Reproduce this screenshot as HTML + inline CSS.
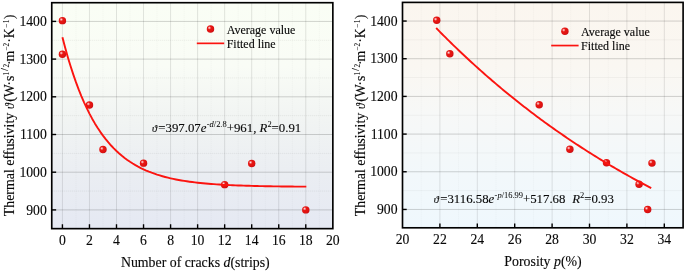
<!DOCTYPE html>
<html><head><meta charset="utf-8"><title>Thermal effusivity</title>
<style>
html,body{margin:0;padding:0;background:#fff;}
body{width:685px;height:271px;overflow:hidden;}
svg{display:block;will-change:transform;}
text{font-family:"Liberation Serif","DejaVu Serif",serif;fill:#080808;stroke:#080808;stroke-width:0.12px;}
.tk{font-size:13.7px;}
.tt{font-size:13.85px;}
.lg{font-size:12px;}
.eq{font-size:12.82px;}
.sp{font-size:8.45px;stroke-width:0.04px;}
.ts{font-size:7.4px;stroke-width:0.06px;}
.yt{font-size:13.9px;}
.i{font-style:italic;}
</style></head><body>
<svg width="685" height="271" viewBox="0 0 685 271">
<defs>
<linearGradient id="g1" x1="0" y1="0" x2="0" y2="1"><stop offset="0" stop-color="#fafef5"/><stop offset="0.28" stop-color="#f9fcf6"/><stop offset="0.49" stop-color="#f2f5f3"/><stop offset="0.77" stop-color="#eaedf2"/><stop offset="1" stop-color="#e5e9f3"/></linearGradient>
<linearGradient id="g2" x1="0" y1="0" x2="0" y2="1"><stop offset="0" stop-color="#fbf6ef"/><stop offset="0.28" stop-color="#faf7f2"/><stop offset="0.49" stop-color="#f7f8f7"/><stop offset="0.77" stop-color="#f2f8fb"/><stop offset="1" stop-color="#eff8fd"/></linearGradient>
<radialGradient id="ball" cx="0.36" cy="0.36" r="0.66" fx="0.34" fy="0.34">
<stop offset="0" stop-color="#fff0f0"/><stop offset="0.16" stop-color="#f58a8c"/><stop offset="0.36" stop-color="#e61814"/><stop offset="0.8" stop-color="#e01210"/><stop offset="1" stop-color="#c80e14"/></radialGradient>
</defs>
<rect width="685" height="271" fill="#fff"/>

<rect x="51.75" y="2.7" width="281.10" height="225.95" fill="url(#g1)"/>
<line x1="75.94" y1="2.7" x2="75.94" y2="228.65" stroke="#000" stroke-opacity="0.038" stroke-width="1" stroke-dasharray="1 1"/>
<line x1="102.98" y1="2.7" x2="102.98" y2="228.65" stroke="#000" stroke-opacity="0.038" stroke-width="1" stroke-dasharray="1 1"/>
<line x1="130.02" y1="2.7" x2="130.02" y2="228.65" stroke="#000" stroke-opacity="0.038" stroke-width="1" stroke-dasharray="1 1"/>
<line x1="157.06" y1="2.7" x2="157.06" y2="228.65" stroke="#000" stroke-opacity="0.038" stroke-width="1" stroke-dasharray="1 1"/>
<line x1="184.10" y1="2.7" x2="184.10" y2="228.65" stroke="#000" stroke-opacity="0.038" stroke-width="1" stroke-dasharray="1 1"/>
<line x1="211.14" y1="2.7" x2="211.14" y2="228.65" stroke="#000" stroke-opacity="0.038" stroke-width="1" stroke-dasharray="1 1"/>
<line x1="238.18" y1="2.7" x2="238.18" y2="228.65" stroke="#000" stroke-opacity="0.038" stroke-width="1" stroke-dasharray="1 1"/>
<line x1="265.22" y1="2.7" x2="265.22" y2="228.65" stroke="#000" stroke-opacity="0.038" stroke-width="1" stroke-dasharray="1 1"/>
<line x1="292.26" y1="2.7" x2="292.26" y2="228.65" stroke="#000" stroke-opacity="0.038" stroke-width="1" stroke-dasharray="1 1"/>
<line x1="319.30" y1="2.7" x2="319.30" y2="228.65" stroke="#000" stroke-opacity="0.038" stroke-width="1" stroke-dasharray="1 1"/>
<line x1="51.75" y1="191.05" x2="332.85" y2="191.05" stroke="#000" stroke-opacity="0.077" stroke-width="1" stroke-dasharray="1 1"/>
<line x1="51.75" y1="153.35" x2="332.85" y2="153.35" stroke="#000" stroke-opacity="0.077" stroke-width="1" stroke-dasharray="1 1"/>
<line x1="51.75" y1="115.65" x2="332.85" y2="115.65" stroke="#000" stroke-opacity="0.077" stroke-width="1" stroke-dasharray="1 1"/>
<line x1="51.75" y1="77.95" x2="332.85" y2="77.95" stroke="#000" stroke-opacity="0.077" stroke-width="1" stroke-dasharray="1 1"/>
<line x1="51.75" y1="40.25" x2="332.85" y2="40.25" stroke="#000" stroke-opacity="0.077" stroke-width="1" stroke-dasharray="1 1"/>
<line x1="62.42" y1="2.7" x2="62.42" y2="228.65" stroke="#000" stroke-opacity="0.104" stroke-width="1"/>
<line x1="89.46" y1="2.7" x2="89.46" y2="228.65" stroke="#000" stroke-opacity="0.104" stroke-width="1"/>
<line x1="116.50" y1="2.7" x2="116.50" y2="228.65" stroke="#000" stroke-opacity="0.104" stroke-width="1"/>
<line x1="143.54" y1="2.7" x2="143.54" y2="228.65" stroke="#000" stroke-opacity="0.104" stroke-width="1"/>
<line x1="170.58" y1="2.7" x2="170.58" y2="228.65" stroke="#000" stroke-opacity="0.104" stroke-width="1"/>
<line x1="197.62" y1="2.7" x2="197.62" y2="228.65" stroke="#000" stroke-opacity="0.104" stroke-width="1"/>
<line x1="224.66" y1="2.7" x2="224.66" y2="228.65" stroke="#000" stroke-opacity="0.104" stroke-width="1"/>
<line x1="251.70" y1="2.7" x2="251.70" y2="228.65" stroke="#000" stroke-opacity="0.104" stroke-width="1"/>
<line x1="278.74" y1="2.7" x2="278.74" y2="228.65" stroke="#000" stroke-opacity="0.104" stroke-width="1"/>
<line x1="305.78" y1="2.7" x2="305.78" y2="228.65" stroke="#000" stroke-opacity="0.104" stroke-width="1"/>
<line x1="51.75" y1="209.90" x2="332.85" y2="209.90" stroke="#000" stroke-opacity="0.174" stroke-width="1"/>
<line x1="51.75" y1="172.20" x2="332.85" y2="172.20" stroke="#000" stroke-opacity="0.174" stroke-width="1"/>
<line x1="51.75" y1="134.50" x2="332.85" y2="134.50" stroke="#000" stroke-opacity="0.174" stroke-width="1"/>
<line x1="51.75" y1="96.80" x2="332.85" y2="96.80" stroke="#000" stroke-opacity="0.174" stroke-width="1"/>
<line x1="51.75" y1="59.10" x2="332.85" y2="59.10" stroke="#000" stroke-opacity="0.174" stroke-width="1"/>
<line x1="51.75" y1="21.40" x2="332.85" y2="21.40" stroke="#000" stroke-opacity="0.174" stroke-width="1"/>
<circle cx="62.42" cy="20.65" r="3.72" fill="url(#ball)"/>
<circle cx="62.42" cy="54.20" r="3.72" fill="url(#ball)"/>
<circle cx="89.46" cy="105.09" r="3.72" fill="url(#ball)"/>
<circle cx="102.98" cy="149.58" r="3.72" fill="url(#ball)"/>
<circle cx="143.54" cy="163.15" r="3.72" fill="url(#ball)"/>
<circle cx="224.66" cy="184.64" r="3.72" fill="url(#ball)"/>
<circle cx="251.70" cy="163.53" r="3.72" fill="url(#ball)"/>
<circle cx="305.78" cy="209.90" r="3.72" fill="url(#ball)"/>
<path d="M62.42,37.21 L65.12,47.53 L67.83,57.14 L70.53,66.08 L73.24,74.41 L75.94,82.17 L78.64,89.39 L81.35,96.11 L84.05,102.37 L86.76,108.19 L89.46,113.62 L92.16,118.67 L94.87,123.38 L97.57,127.76 L100.28,131.83 L102.98,135.63 L105.68,139.16 L108.39,142.46 L111.09,145.52 L113.80,148.37 L116.50,151.03 L119.20,153.50 L121.91,155.80 L124.61,157.95 L127.32,159.94 L130.02,161.80 L132.72,163.53 L135.43,165.14 L138.13,166.64 L140.84,168.04 L143.54,169.34 L146.24,170.55 L148.95,171.68 L151.65,172.73 L154.36,173.71 L157.06,174.62 L159.76,175.46 L162.47,176.25 L165.17,176.99 L167.88,177.67 L170.58,178.31 L173.28,178.90 L175.99,179.45 L178.69,179.96 L181.40,180.44 L184.10,180.89 L186.80,181.30 L189.51,181.69 L192.21,182.05 L194.92,182.38 L197.62,182.69 L200.32,182.98 L203.03,183.25 L205.73,183.51 L208.44,183.74 L211.14,183.96 L213.84,184.16 L216.55,184.35 L219.25,184.53 L221.96,184.69 L224.66,184.84 L227.36,184.98 L230.07,185.12 L232.77,185.24 L235.48,185.35 L238.18,185.46 L240.88,185.56 L243.59,185.65 L246.29,185.74 L249.00,185.82 L251.70,185.89 L254.40,185.96 L257.11,186.03 L259.81,186.09 L262.52,186.15 L265.22,186.20 L267.92,186.25 L270.63,186.29 L273.33,186.33 L276.04,186.37 L278.74,186.41 L281.44,186.44 L284.15,186.47 L286.85,186.50 L289.56,186.53 L292.26,186.56 L294.96,186.58 L297.67,186.60 L300.37,186.62 L303.08,186.64 L305.78,186.66 L306.32,186.66" fill="none" stroke="#fb1410" stroke-width="1.9" stroke-linecap="butt" stroke-linejoin="round"/>
<line x1="62.42" y1="228.65" x2="62.42" y2="224.25" stroke="#000" stroke-width="1.4"/>
<line x1="89.46" y1="228.65" x2="89.46" y2="224.25" stroke="#000" stroke-width="1.4"/>
<line x1="116.50" y1="228.65" x2="116.50" y2="224.25" stroke="#000" stroke-width="1.4"/>
<line x1="143.54" y1="228.65" x2="143.54" y2="224.25" stroke="#000" stroke-width="1.4"/>
<line x1="170.58" y1="228.65" x2="170.58" y2="224.25" stroke="#000" stroke-width="1.4"/>
<line x1="197.62" y1="228.65" x2="197.62" y2="224.25" stroke="#000" stroke-width="1.4"/>
<line x1="224.66" y1="228.65" x2="224.66" y2="224.25" stroke="#000" stroke-width="1.4"/>
<line x1="251.70" y1="228.65" x2="251.70" y2="224.25" stroke="#000" stroke-width="1.4"/>
<line x1="278.74" y1="228.65" x2="278.74" y2="224.25" stroke="#000" stroke-width="1.4"/>
<line x1="305.78" y1="228.65" x2="305.78" y2="224.25" stroke="#000" stroke-width="1.4"/>
<line x1="51.75" y1="209.90" x2="56.15" y2="209.90" stroke="#000" stroke-width="1.4"/>
<line x1="51.75" y1="172.20" x2="56.15" y2="172.20" stroke="#000" stroke-width="1.4"/>
<line x1="51.75" y1="134.50" x2="56.15" y2="134.50" stroke="#000" stroke-width="1.4"/>
<line x1="51.75" y1="96.80" x2="56.15" y2="96.80" stroke="#000" stroke-width="1.4"/>
<line x1="51.75" y1="59.10" x2="56.15" y2="59.10" stroke="#000" stroke-width="1.4"/>
<line x1="51.75" y1="21.40" x2="56.15" y2="21.40" stroke="#000" stroke-width="1.4"/>
<rect x="51.75" y="2.7" width="281.10" height="225.95" fill="none" stroke="#000" stroke-width="1.65"/>
<text class="tk" x="46.75" y="214.50" text-anchor="end">900</text>
<text class="tk" x="46.75" y="176.80" text-anchor="end">1000</text>
<text class="tk" x="46.75" y="139.10" text-anchor="end">1100</text>
<text class="tk" x="46.75" y="101.40" text-anchor="end">1200</text>
<text class="tk" x="46.75" y="63.70" text-anchor="end">1300</text>
<text class="tk" x="46.75" y="26.00" text-anchor="end">1400</text>
<text class="tk" x="62.42" y="244.8" text-anchor="middle">0</text>
<text class="tk" x="89.46" y="244.8" text-anchor="middle">2</text>
<text class="tk" x="116.50" y="244.8" text-anchor="middle">4</text>
<text class="tk" x="143.54" y="244.8" text-anchor="middle">6</text>
<text class="tk" x="170.58" y="244.8" text-anchor="middle">8</text>
<text class="tk" x="197.62" y="244.8" text-anchor="middle">10</text>
<text class="tk" x="224.66" y="244.8" text-anchor="middle">12</text>
<text class="tk" x="251.70" y="244.8" text-anchor="middle">14</text>
<text class="tk" x="278.74" y="244.8" text-anchor="middle">16</text>
<text class="tk" x="305.78" y="244.8" text-anchor="middle">18</text>
<text class="tk" x="332.82" y="244.8" text-anchor="middle">20</text>
<text class="tt" x="195.3" y="267.4" text-anchor="middle">Number of cracks <tspan class="i">d</tspan>(strips)</text>
<text class="yt" transform="translate(13.80,216.3) rotate(-90)" text-anchor="start">Thermal effusivity</text>
<text class="yt" transform="translate(13.80,14.6) rotate(-90)" text-anchor="end" style="font-size:13.78px"><tspan class="i" style="font-size:11.8px">ϑ</tspan><tspan dx="1.3">(W</tspan><tspan dx="-1.4">·s</tspan><tspan class="ts" dy="-4.9" dx="0.3">1</tspan><tspan style="font-size:10.4px" dy="-0.9" dx="0.7">/</tspan><tspan class="ts" dy="0.9" dx="0.7">2</tspan><tspan dy="4.9" dx="-1.3">·</tspan><tspan dx="-1.0">m</tspan><tspan class="ts" dy="-4.9">−2</tspan><tspan dy="4.9">·K</tspan><tspan class="ts" dy="-4.9" dx="0.2">−</tspan><tspan class="ts" dx="0.7">1</tspan><tspan dy="4.9" dx="0.3">)</tspan></text>
<circle cx="210.5" cy="29.0" r="3.72" fill="url(#ball)"/>
<line x1="196.8" y1="43.35" x2="224.2" y2="43.35" stroke="#fb1410" stroke-width="1.7"/>
<text class="lg" x="226.7" y="33.5">Average value</text>
<text class="lg" x="226.7" y="47.9">Fitted line</text>
<text class="eq" x="152.0" y="131.8"><tspan class="i" style="font-size:10.4px">ϑ</tspan><tspan x="158.3">=397.07</tspan><tspan class="i">e</tspan><tspan class="sp" dy="-5.1" dx="0.3">-</tspan><tspan class="sp i">d</tspan><tspan class="sp">/2.8</tspan><tspan dy="5.1">+961, </tspan><tspan class="i">R</tspan><tspan class="sp" dy="-5.1">2</tspan><tspan dy="5.1">=0.91</tspan></text>
<rect x="402.5" y="2.4" width="280.60" height="225.40" fill="url(#g2)"/>
<line x1="421.20" y1="2.4" x2="421.20" y2="227.8" stroke="#000" stroke-opacity="0.038" stroke-width="1" stroke-dasharray="1 1"/>
<line x1="458.60" y1="2.4" x2="458.60" y2="227.8" stroke="#000" stroke-opacity="0.038" stroke-width="1" stroke-dasharray="1 1"/>
<line x1="496.00" y1="2.4" x2="496.00" y2="227.8" stroke="#000" stroke-opacity="0.038" stroke-width="1" stroke-dasharray="1 1"/>
<line x1="533.40" y1="2.4" x2="533.40" y2="227.8" stroke="#000" stroke-opacity="0.038" stroke-width="1" stroke-dasharray="1 1"/>
<line x1="570.80" y1="2.4" x2="570.80" y2="227.8" stroke="#000" stroke-opacity="0.038" stroke-width="1" stroke-dasharray="1 1"/>
<line x1="608.20" y1="2.4" x2="608.20" y2="227.8" stroke="#000" stroke-opacity="0.038" stroke-width="1" stroke-dasharray="1 1"/>
<line x1="645.60" y1="2.4" x2="645.60" y2="227.8" stroke="#000" stroke-opacity="0.038" stroke-width="1" stroke-dasharray="1 1"/>
<line x1="402.5" y1="190.61" x2="683.1" y2="190.61" stroke="#000" stroke-opacity="0.077" stroke-width="1" stroke-dasharray="1 1"/>
<line x1="402.5" y1="152.93" x2="683.1" y2="152.93" stroke="#000" stroke-opacity="0.077" stroke-width="1" stroke-dasharray="1 1"/>
<line x1="402.5" y1="115.25" x2="683.1" y2="115.25" stroke="#000" stroke-opacity="0.077" stroke-width="1" stroke-dasharray="1 1"/>
<line x1="402.5" y1="77.57" x2="683.1" y2="77.57" stroke="#000" stroke-opacity="0.077" stroke-width="1" stroke-dasharray="1 1"/>
<line x1="402.5" y1="39.89" x2="683.1" y2="39.89" stroke="#000" stroke-opacity="0.077" stroke-width="1" stroke-dasharray="1 1"/>
<line x1="439.90" y1="2.4" x2="439.90" y2="227.8" stroke="#000" stroke-opacity="0.104" stroke-width="1"/>
<line x1="477.30" y1="2.4" x2="477.30" y2="227.8" stroke="#000" stroke-opacity="0.104" stroke-width="1"/>
<line x1="514.70" y1="2.4" x2="514.70" y2="227.8" stroke="#000" stroke-opacity="0.104" stroke-width="1"/>
<line x1="552.10" y1="2.4" x2="552.10" y2="227.8" stroke="#000" stroke-opacity="0.104" stroke-width="1"/>
<line x1="589.50" y1="2.4" x2="589.50" y2="227.8" stroke="#000" stroke-opacity="0.104" stroke-width="1"/>
<line x1="626.90" y1="2.4" x2="626.90" y2="227.8" stroke="#000" stroke-opacity="0.104" stroke-width="1"/>
<line x1="664.30" y1="2.4" x2="664.30" y2="227.8" stroke="#000" stroke-opacity="0.104" stroke-width="1"/>
<line x1="402.5" y1="209.45" x2="683.1" y2="209.45" stroke="#000" stroke-opacity="0.174" stroke-width="1"/>
<line x1="402.5" y1="171.77" x2="683.1" y2="171.77" stroke="#000" stroke-opacity="0.174" stroke-width="1"/>
<line x1="402.5" y1="134.09" x2="683.1" y2="134.09" stroke="#000" stroke-opacity="0.174" stroke-width="1"/>
<line x1="402.5" y1="96.41" x2="683.1" y2="96.41" stroke="#000" stroke-opacity="0.174" stroke-width="1"/>
<line x1="402.5" y1="58.73" x2="683.1" y2="58.73" stroke="#000" stroke-opacity="0.174" stroke-width="1"/>
<line x1="402.5" y1="21.05" x2="683.1" y2="21.05" stroke="#000" stroke-opacity="0.174" stroke-width="1"/>
<circle cx="436.72" cy="20.30" r="3.72" fill="url(#ball)"/>
<circle cx="449.81" cy="53.83" r="3.72" fill="url(#ball)"/>
<circle cx="539.20" cy="104.70" r="3.72" fill="url(#ball)"/>
<circle cx="569.87" cy="149.16" r="3.72" fill="url(#ball)"/>
<circle cx="606.52" cy="162.73" r="3.72" fill="url(#ball)"/>
<circle cx="639.05" cy="184.20" r="3.72" fill="url(#ball)"/>
<circle cx="651.96" cy="163.10" r="3.72" fill="url(#ball)"/>
<circle cx="647.66" cy="209.45" r="3.72" fill="url(#ball)"/>
<path d="M436.16,28.01 L438.03,29.92 L439.90,31.82 L441.77,33.71 L443.64,35.59 L445.51,37.45 L447.38,39.31 L449.25,41.15 L451.12,42.99 L452.99,44.81 L454.86,46.62 L456.73,48.42 L458.60,50.21 L460.47,51.99 L462.34,53.76 L464.21,55.52 L466.08,57.27 L467.95,59.01 L469.82,60.73 L471.69,62.45 L473.56,64.16 L475.43,65.86 L477.30,67.55 L479.17,69.23 L481.04,70.89 L482.91,72.55 L484.78,74.20 L486.65,75.84 L488.52,77.47 L490.39,79.09 L492.26,80.70 L494.13,82.30 L496.00,83.89 L497.87,85.47 L499.74,87.05 L501.61,88.61 L503.48,90.17 L505.35,91.71 L507.22,93.25 L509.09,94.78 L510.96,96.29 L512.83,97.80 L514.70,99.30 L516.57,100.80 L518.44,102.28 L520.31,103.75 L522.18,105.22 L524.05,106.68 L525.92,108.12 L527.79,109.56 L529.66,111.00 L531.53,112.42 L533.40,113.83 L535.27,115.24 L537.14,116.64 L539.01,118.03 L540.88,119.41 L542.75,120.78 L544.62,122.15 L546.49,123.51 L548.36,124.86 L550.23,126.20 L552.10,127.53 L553.97,128.86 L555.84,130.18 L557.71,131.49 L559.58,132.79 L561.45,134.09 L563.32,135.37 L565.19,136.65 L567.06,137.93 L568.93,139.19 L570.80,140.45 L572.67,141.70 L574.54,142.94 L576.41,144.18 L578.28,145.41 L580.15,146.63 L582.02,147.84 L583.89,149.05 L585.76,150.25 L587.63,151.44 L589.50,152.63 L591.37,153.81 L593.24,154.98 L595.11,156.14 L596.98,157.30 L598.85,158.45 L600.72,159.60 L602.59,160.74 L604.46,161.87 L606.33,162.99 L608.20,164.11 L610.07,165.22 L611.94,166.33 L613.81,167.43 L615.68,168.52 L617.55,169.60 L619.42,170.68 L621.29,171.76 L623.16,172.82 L625.03,173.88 L626.90,174.94 L628.77,175.98 L630.64,177.03 L632.51,178.06 L634.38,179.09 L636.25,180.12 L638.12,181.13 L639.99,182.14 L641.86,183.15 L643.73,184.15 L645.60,185.14 L647.47,186.13 L649.34,187.11 L651.21,188.09" fill="none" stroke="#fb1410" stroke-width="1.9" stroke-linecap="butt" stroke-linejoin="round"/>
<line x1="439.90" y1="227.8" x2="439.90" y2="223.60" stroke="#000" stroke-width="1.4"/>
<line x1="477.30" y1="227.8" x2="477.30" y2="223.60" stroke="#000" stroke-width="1.4"/>
<line x1="514.70" y1="227.8" x2="514.70" y2="223.60" stroke="#000" stroke-width="1.4"/>
<line x1="552.10" y1="227.8" x2="552.10" y2="223.60" stroke="#000" stroke-width="1.4"/>
<line x1="589.50" y1="227.8" x2="589.50" y2="223.60" stroke="#000" stroke-width="1.4"/>
<line x1="626.90" y1="227.8" x2="626.90" y2="223.60" stroke="#000" stroke-width="1.4"/>
<line x1="664.30" y1="227.8" x2="664.30" y2="223.60" stroke="#000" stroke-width="1.4"/>
<line x1="402.5" y1="209.45" x2="406.70" y2="209.45" stroke="#000" stroke-width="1.4"/>
<line x1="402.5" y1="171.77" x2="406.70" y2="171.77" stroke="#000" stroke-width="1.4"/>
<line x1="402.5" y1="134.09" x2="406.70" y2="134.09" stroke="#000" stroke-width="1.4"/>
<line x1="402.5" y1="96.41" x2="406.70" y2="96.41" stroke="#000" stroke-width="1.4"/>
<line x1="402.5" y1="58.73" x2="406.70" y2="58.73" stroke="#000" stroke-width="1.4"/>
<line x1="402.5" y1="21.05" x2="406.70" y2="21.05" stroke="#000" stroke-width="1.4"/>
<rect x="402.5" y="2.4" width="280.60" height="225.40" fill="none" stroke="#000" stroke-width="1.65"/>
<text class="tk" x="397.50" y="214.05" text-anchor="end">900</text>
<text class="tk" x="397.50" y="176.37" text-anchor="end">1000</text>
<text class="tk" x="397.50" y="138.69" text-anchor="end">1100</text>
<text class="tk" x="397.50" y="101.01" text-anchor="end">1200</text>
<text class="tk" x="397.50" y="63.33" text-anchor="end">1300</text>
<text class="tk" x="397.50" y="25.65" text-anchor="end">1400</text>
<text class="tk" x="402.50" y="244.0" text-anchor="middle">20</text>
<text class="tk" x="439.90" y="244.0" text-anchor="middle">22</text>
<text class="tk" x="477.30" y="244.0" text-anchor="middle">24</text>
<text class="tk" x="514.70" y="244.0" text-anchor="middle">26</text>
<text class="tk" x="552.10" y="244.0" text-anchor="middle">28</text>
<text class="tk" x="589.50" y="244.0" text-anchor="middle">30</text>
<text class="tk" x="626.90" y="244.0" text-anchor="middle">32</text>
<text class="tk" x="664.30" y="244.0" text-anchor="middle">34</text>
<text class="tt" x="543" y="266.3" text-anchor="middle">Porosity <tspan class="i">p</tspan>(%)</text>
<text class="yt" transform="translate(364.80,216.3) rotate(-90)" text-anchor="start">Thermal effusivity</text>
<text class="yt" transform="translate(364.80,14.6) rotate(-90)" text-anchor="end" style="font-size:13.78px"><tspan class="i" style="font-size:11.8px">ϑ</tspan><tspan dx="1.3">(W</tspan><tspan dx="-1.4">·s</tspan><tspan class="ts" dy="-4.9" dx="0.3">1</tspan><tspan style="font-size:10.4px" dy="-0.9" dx="0.7">/</tspan><tspan class="ts" dy="0.9" dx="0.7">2</tspan><tspan dy="4.9" dx="-1.3">·</tspan><tspan dx="-1.0">m</tspan><tspan class="ts" dy="-4.9">−2</tspan><tspan dy="4.9">·K</tspan><tspan class="ts" dy="-4.9" dx="0.2">−</tspan><tspan class="ts" dx="0.7">1</tspan><tspan dy="4.9" dx="0.3">)</tspan></text>
<circle cx="564.9" cy="31.2" r="3.72" fill="url(#ball)"/>
<line x1="551.1999999999999" y1="45.55" x2="578.6" y2="45.55" stroke="#fb1410" stroke-width="1.7"/>
<text class="lg" x="581.1" y="35.7">Average value</text>
<text class="lg" x="581.1" y="50.099999999999994">Fitted line</text>
<text class="eq" x="433.8" y="202.7"><tspan class="i" style="font-size:10.4px">ϑ</tspan><tspan x="440.2">=3116.58</tspan><tspan class="i">e</tspan><tspan class="sp" dy="-5.1" dx="0.3">-</tspan><tspan class="sp i">p</tspan><tspan class="sp">/16.99</tspan><tspan dy="5.1">+517.68  </tspan><tspan class="i" dx="3.5">R</tspan><tspan class="sp" dy="-5.1">2</tspan><tspan dy="5.1">=0.93</tspan></text>
</svg></body></html>
